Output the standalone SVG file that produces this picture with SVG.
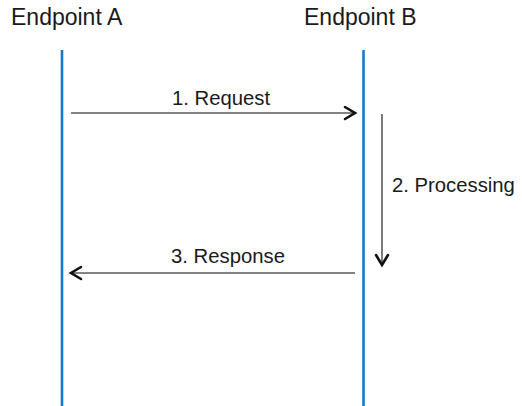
<svg xmlns="http://www.w3.org/2000/svg" width="522" height="406" viewBox="0 0 522 406">
<style>
.title{font-family:"Liberation Sans",Arial,sans-serif;font-size:23px;fill:#1a1a1a}
.lbl{font-family:"Liberation Sans",Arial,sans-serif;font-size:20.3px;fill:#1a1a1a}
.life{stroke:#1a78c8;stroke-width:2.6;fill:none}
.msg{stroke:#5a5a5a;stroke-width:1.6;fill:none}
.head{stroke:#111;stroke-width:2.6;fill:none;stroke-linecap:round;stroke-linejoin:miter}
</style>
<rect width="522" height="406" fill="#fff"/>
<g id="endpointA">
<text class="title" x="11" y="25">Endpoint A</text>
<line class="life" x1="62" y1="50" x2="62" y2="406"/>
</g>
<g id="endpointB">
<text class="title" x="304" y="25">Endpoint B</text>
<line class="life" x1="363.5" y1="50" x2="363.5" y2="406"/>
</g>
<g id="connectors">
<g id="request">
<line class="msg" x1="71" y1="113" x2="354" y2="113"/>
<polyline class="head" points="345,107 355,113 345,119"/>
<text class="lbl" x="221" y="105" text-anchor="middle">1. Request</text>
</g>
<g id="processing">
<line class="msg" x1="382" y1="114" x2="382" y2="263"/>
<polyline class="head" points="376,255 382,265 388,255"/>
<text class="lbl" x="392" y="192">2. Processing</text>
</g>
<g id="response">
<line class="msg" x1="355" y1="273" x2="72" y2="273"/>
<polyline class="head" points="81,267 71,273 81,279"/>
<text class="lbl" x="228" y="263" text-anchor="middle">3. Response</text>
</g>
</g>
</svg>
